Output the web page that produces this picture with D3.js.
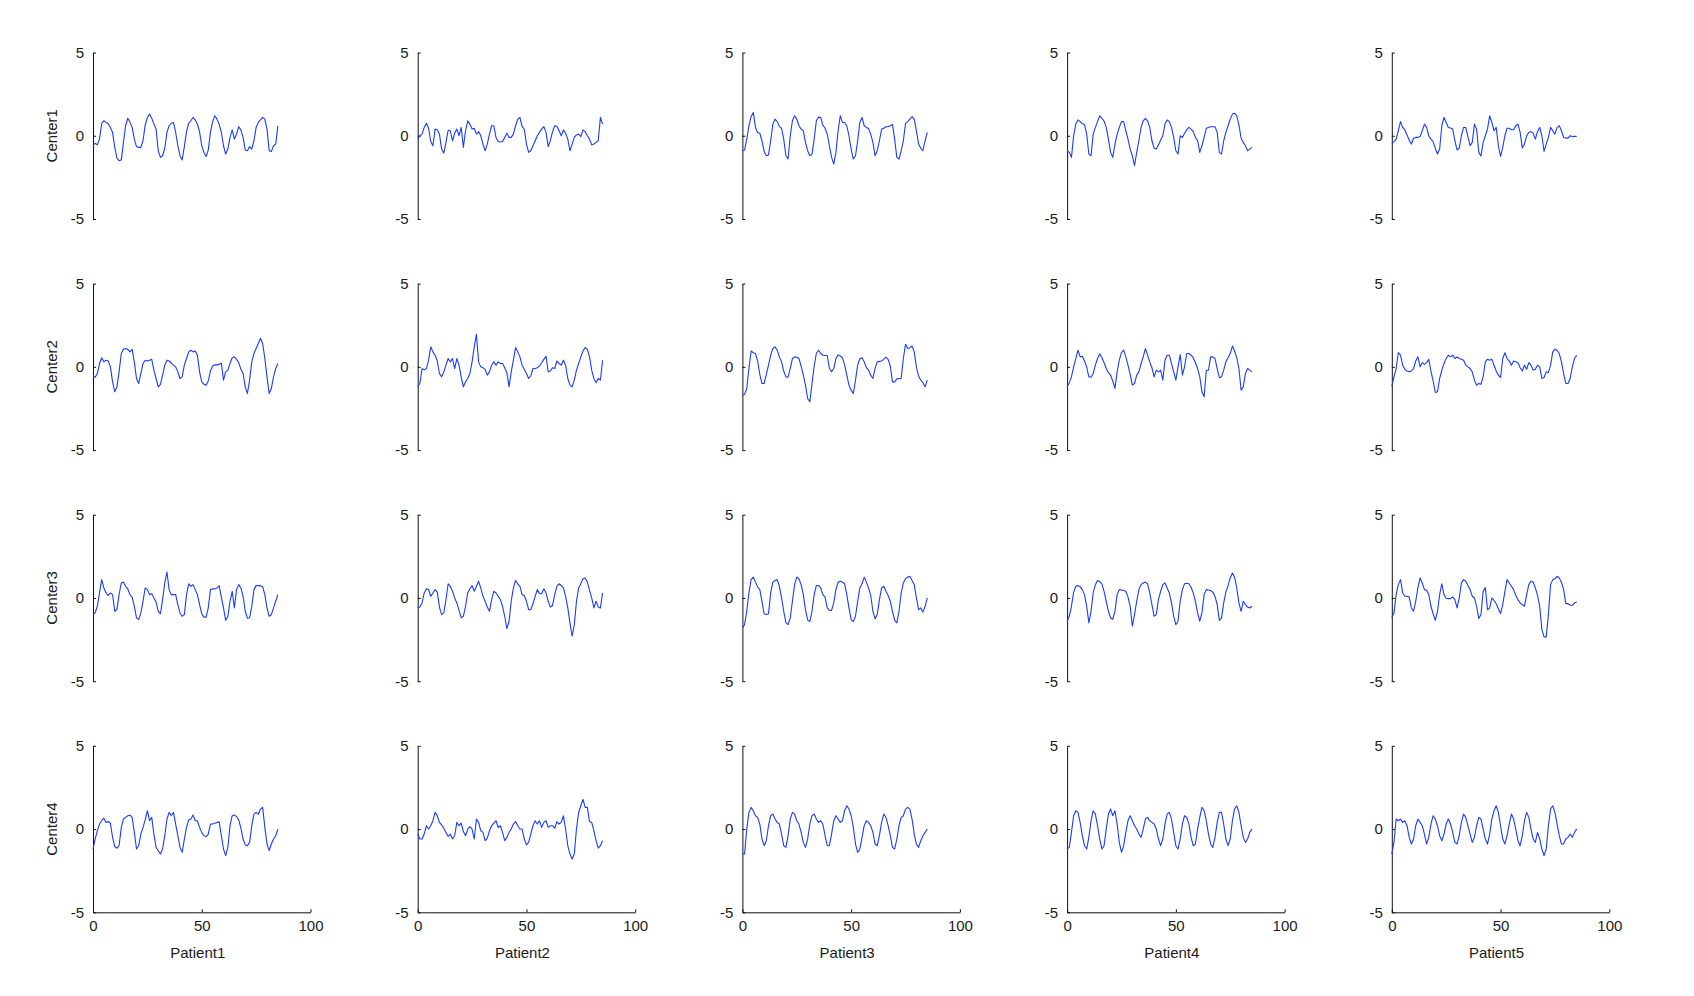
<!DOCTYPE html>
<html><head><meta charset="utf-8">
<script src="https://cdn.jsdelivr.net/npm/d3@7"></script>
<style>body{margin:0;background:#fff;} svg{display:block;}</style>
</head><body>
<svg id="chart" width="1694" height="996"></svg>
<script>
const patients = ["Patient1","Patient2","Patient3","Patient4","Patient5"];
const centers = ["Center1","Center2","Center3","Center4"];
const xTicks = [0, 50, 100];
const yTicks = [-5, 0, 5];

const c1p1 = [-0.6,-0.45,-0.55,-0.2,0.75,0.9,0.8,0.72,0.5,0.2,
 -0.7,-1.35,-1.5,-1.45,-0.4,0.6,1.05,0.82,0.5,-0.2,
 -0.65,-0.7,-0.7,-0.3,0.64,1.1,1.3,1.05,0.7,0.4,
 -0.9,-1.3,-1.2,-0.75,0.2,0.6,0.75,0.8,0.2,-0.6,
 -1.2,-1.45,-0.65,0.25,0.75,0.9,1.1,0.95,0.7,0.23,
 -0.6,-1.0,-1.25,-0.85,0.2,0.85,1.2,1.0,0.7,0.2,
 -0.6,-1.1,-0.8,-0.1,0.35,-0.2,0.1,0.54,0.35,-0.1,
 -0.85,-0.9,-0.65,-0.8,-0.3,0.5,0.8,0.95,1.1,1.0,
 0.4,-0.9,-0.95,-0.6,-0.5,0.6];
const c1p2 = [-0.2,0.0,0.1,0.5,0.75,0.45,-0.35,-0.6,0.4,0.35,
 0.1,-0.8,-1.05,-0.4,0.33,0.3,-0.3,0.15,0.4,0.0,
 0.5,-0.7,0.3,0.9,0.7,0.4,0.45,0.1,0.25,0.0,
 -0.5,-0.9,-0.5,0.1,0.6,0.6,-0.1,-0.35,-0.38,-0.35,
 -0.1,0.15,-0.1,-0.1,0.1,0.6,1.0,1.1,0.55,0.4,
 -0.5,-1.0,-0.9,-0.6,-0.3,0.0,0.2,0.4,0.55,0.2,
 -0.65,-0.3,0.25,0.6,0.55,0.3,0.0,0.35,0.15,-0.2,
 -0.9,-0.5,-0.1,0.05,0.1,-0.05,0.35,0.25,0.0,-0.2,
 -0.55,-0.5,-0.4,-0.3,1.1,0.7];
const c1p3 = [-0.9,-0.85,-0.2,0.6,1.16,1.4,0.5,0.2,0.15,-0.3,
 -0.95,-1.2,-1.15,-0.3,0.7,1.0,0.85,0.55,0.45,-0.2,
 -1.2,-1.4,0.0,0.9,1.2,1.0,0.6,0.4,0.3,-0.4,
 -0.9,-1.2,-1.1,-0.2,0.9,1.12,1.1,0.64,0.45,0.1,
 -0.6,-1.3,-1.7,-1.0,0.3,1.2,0.8,0.8,0.6,0.0,
 -0.8,-1.4,-1.2,-0.3,0.8,1.1,0.6,0.5,0.43,0.1,
 -0.4,-1.2,-0.9,-0.3,0.4,0.45,0.54,0.54,0.6,0.68,
 -0.2,-1.3,-1.4,-0.9,-0.3,0.74,0.85,1.0,1.15,1.0,
 0.3,-0.5,-0.75,-0.9,-0.3,0.2];
const c1p4 = [-0.9,-1.0,-1.3,0.0,0.7,0.95,0.85,0.72,0.67,0.1,
 -1.1,-1.2,0.1,0.5,0.85,1.2,1.05,0.88,0.5,-0.2,
 -1.0,-1.3,-0.5,0.1,0.5,0.85,0.85,0.3,-0.2,-0.8,
 -1.2,-1.8,-1.0,-0.3,0.5,0.9,1.05,0.9,0.5,-0.3,
 -0.75,-0.8,-0.55,-0.25,0.0,0.7,0.95,0.85,0.5,-0.1,
 -0.9,-1.1,0.0,-0.1,0.15,0.35,0.5,0.4,0.25,-0.1,
 -0.3,-1.0,-0.6,-0.1,0.45,0.5,0.54,0.54,0.54,0.2,
 -1.0,-1.1,-0.3,0.2,0.6,1.0,1.3,1.35,1.2,0.65,
 -0.15,-0.4,-0.6,-0.9,-0.8,-0.7];
const c1p5 = [-0.45,-0.35,-0.2,0.3,0.85,0.5,0.35,0.05,-0.25,-0.5,
 -0.15,-0.1,-0.1,-0.05,0.3,0.7,0.5,0.0,-0.2,-0.35,
 -0.75,-1.1,-0.8,0.6,1.1,0.8,0.5,0.46,0.4,-0.3,
 -0.85,-0.75,0.0,0.5,0.5,-0.05,-0.6,-0.4,0.7,0.4,
 -1.0,-1.22,-0.4,0.0,0.4,1.2,0.8,0.3,0.5,-0.6,
 -1.24,-0.7,0.0,0.45,0.45,0.36,0.36,0.6,0.7,0.2,
 -0.74,-0.5,0.0,0.2,0.25,0.16,-0.2,0.25,0.5,0.0,
 -0.94,-0.5,-0.1,0.5,0.3,0.1,0.5,0.6,0.3,-0.1,
 -0.14,-0.14,0.0,-0.05,-0.04,-0.04];

const c2p1 = [-0.55,-0.63,-0.4,0.2,0.55,0.3,0.4,0.35,0.0,-0.9,
 -1.5,-1.2,-0.3,0.8,1.05,1.1,1.05,0.9,1.05,0.3,
 -0.7,-1.0,-0.4,0.2,0.4,0.35,0.4,0.45,-0.2,-0.7,
 -1.2,-1.05,-0.5,0.1,0.4,0.35,0.23,0.1,0.0,-0.3,
 -0.7,-0.6,0.1,0.5,0.9,1.0,0.9,0.95,0.7,-0.3,
 -0.9,-1.05,-1.1,-0.85,-0.25,0.05,0.12,0.12,0.15,0.23,
 -0.8,-0.3,-0.2,0.2,0.55,0.6,0.45,0.25,-0.15,-0.4,
 -1.2,-1.6,-0.8,0.3,0.8,1.1,1.4,1.72,1.4,0.5,
 -0.6,-1.6,-1.3,-0.6,-0.1,0.2];
const c2p2 = [-1.2,-1.0,-0.1,-0.18,-0.1,0.4,1.2,0.9,0.7,0.35,
 -0.4,-0.6,-0.3,0.1,0.5,0.3,0.5,-0.1,0.5,0.1,
 -0.6,-1.2,-0.9,-0.7,-0.4,0.3,1.2,1.95,0.3,0.0,
 -0.05,-0.15,-0.5,-0.3,0.1,0.3,0.1,0.3,0.2,0.2,
 -0.05,-0.35,-1.2,-0.3,0.4,1.16,0.9,0.6,0.1,-0.15,
 -0.4,-0.7,-0.55,-0.1,-0.1,-0.05,0.05,0.25,0.45,0.64,
 -0.3,-0.25,-0.05,-0.1,0.35,0.2,0.1,0.4,0.1,-0.7,
 -1.1,-1.2,-0.8,-0.2,0.2,0.6,0.95,1.16,1.05,0.6,
 -0.2,-0.7,-0.95,-0.7,-0.8,0.4];
const c2p3 = [-1.7,-1.65,-1.3,-0.1,0.95,0.85,0.8,0.35,-0.45,-1.0,
 -1.0,-0.45,0.1,0.7,1.1,1.2,1.0,0.6,0.3,-0.25,
 -0.6,-0.62,-0.1,0.5,0.6,0.58,0.5,0.05,-0.5,-1.1,
 -1.9,-2.1,-1.0,0.05,0.8,1.0,0.8,0.7,0.68,0.68,
 -0.1,-0.29,-0.1,0.5,0.72,0.65,0.55,0.1,-0.5,-1.1,
 -1.4,-1.6,-0.8,0.1,0.5,0.54,0.3,-0.05,-0.2,-0.5,
 -0.7,-0.1,0.3,0.33,0.35,0.45,0.58,0.45,0.05,-0.9,
 -0.9,-0.72,-0.7,-0.7,0.5,1.36,1.1,1.15,1.25,0.9,
 0.0,-0.55,-0.8,-0.95,-1.2,-0.8];
const c2p4 = [-1.2,-0.95,-0.6,0.0,0.5,1.0,0.6,0.64,0.35,0.0,
 -0.6,-0.62,-0.4,0.1,0.5,0.78,0.55,0.25,-0.1,-0.35,
 -0.5,-0.85,-1.3,-0.3,0.4,0.85,1.0,0.6,0.1,-0.45,
 -1.1,-1.0,-0.5,-0.3,0.2,0.6,1.1,0.7,0.3,-0.05,
 -0.6,-0.2,-0.3,-0.2,-0.8,0.4,0.7,0.7,0.2,-0.3,
 -0.8,0.0,0.74,-0.5,0.0,0.8,0.8,0.7,0.55,0.25,
 -0.1,-0.6,-1.5,-1.8,-0.2,-0.2,0.6,0.6,0.5,-0.1,
 -0.65,-0.6,-0.2,0.3,0.54,0.8,1.25,0.95,0.55,-0.1,
 -1.4,-1.2,-0.4,-0.1,-0.2,-0.3];
const c2p5 = [-1.18,-0.6,-0.1,0.86,0.7,0.1,-0.15,-0.25,-0.3,-0.25,
 -0.1,0.35,0.6,0.0,0.25,0.15,0.25,0.45,-0.25,-0.85,
 -1.54,-1.5,-0.7,-0.2,0.2,0.5,0.7,0.6,0.7,0.5,
 0.6,0.5,0.46,0.4,0.1,0.0,-0.1,-0.3,-0.8,-1.1,
 -1.0,-1.05,-0.6,0.3,0.46,0.4,0.45,0.1,-0.25,-0.5,
 -0.64,0.5,0.85,0.5,0.35,0.1,0.35,0.3,0.25,-0.05,
 -0.25,0.1,-0.15,0.25,0.1,-0.2,-0.15,0.1,0.0,-0.7,
 -0.64,-0.3,-0.35,0.1,0.9,1.06,1.0,0.8,0.3,-0.4,
 -1.0,-1.0,-0.7,0.0,0.5,0.7];

const c3p1 = [-1.0,-0.9,-0.5,0.3,1.1,0.6,0.3,0.15,0.3,0.2,
 -0.8,-0.7,0.2,0.9,0.95,0.7,0.54,0.2,0.05,-0.5,
 -1.2,-1.3,-0.9,-0.2,0.6,0.5,0.2,0.25,0.0,-0.25,
 -0.8,-0.95,-0.1,0.9,1.55,0.5,0.2,0.2,0.2,-0.4,
 -0.9,-1.1,-1.0,0.2,0.85,0.7,0.8,0.5,0.2,-0.4,
 -0.95,-1.15,-1.15,-0.6,0.5,0.55,0.54,0.6,0.74,0.05,
 -0.6,-1.35,-1.1,-0.2,0.4,-0.6,0.5,0.8,0.6,0.1,
 -0.8,-1.22,-1.2,-0.5,0.5,0.74,0.74,0.74,0.68,0.2,
 -0.6,-1.1,-1.0,-0.6,-0.2,0.2];
const c3p2 = [-0.6,-0.55,-0.3,0.3,0.55,0.5,0.1,0.3,0.5,0.35,
 -0.55,-1.0,-0.9,-0.1,0.85,0.7,0.4,0.0,-0.3,-0.75,
 -1.2,-1.1,-0.5,0.3,0.55,0.74,0.4,0.7,1.0,0.6,
 0.1,-0.2,-0.55,-0.8,-0.1,0.4,0.3,0.1,-0.1,-0.5,
 -1.1,-1.84,-1.4,-0.2,0.6,1.05,0.85,0.7,0.2,0.15,
 -0.2,-0.7,-0.7,-0.35,0.1,0.5,0.25,0.25,0.55,0.3,
 -0.2,-0.55,-0.45,0.2,0.7,0.85,0.75,0.6,0.1,-0.6,
 -1.5,-2.3,-1.6,-0.2,0.6,0.85,1.15,1.2,0.95,0.45,
 0.0,-0.6,-0.2,-0.55,-0.6,0.3];
const c3p3 = [-1.8,-1.6,-0.8,0.3,1.1,1.25,0.95,0.65,0.5,-0.2,
 -0.95,-1.0,-0.95,0.3,0.95,1.05,1.1,0.7,0.0,-0.8,
 -1.5,-1.6,-1.2,-0.2,0.8,1.25,1.15,0.8,0.2,-0.7,
 -1.32,-1.42,-0.8,0.2,0.75,0.75,0.6,0.2,0.05,-0.6,
 -0.75,-0.75,-0.3,0.5,0.95,1.0,0.95,0.85,0.2,-0.6,
 -1.3,-1.42,-1.1,-0.2,0.6,0.85,1.25,0.95,0.6,0.15,
 -0.8,-1.25,-1.0,-0.1,0.6,0.7,0.4,0.15,-0.2,-0.8,
 -1.35,-1.5,-0.8,0.3,0.9,1.15,1.25,1.3,1.05,0.8,
 0.0,-0.7,-0.6,-0.85,-0.5,0.0];
const c3p4 = [-1.4,-1.1,-0.5,0.35,0.7,0.74,0.68,0.5,0.2,-0.5,
 -1.5,-0.8,0.3,0.8,1.05,0.97,0.85,0.4,-0.2,-0.8,
 -1.2,-1.28,-0.8,0.2,0.5,0.48,0.45,0.4,0.05,-0.5,
 -1.7,-1.0,-0.2,0.5,0.8,0.9,0.95,0.85,0.3,-0.4,
 -1.1,-1.0,-0.1,0.4,0.8,0.9,0.6,0.3,-0.3,-1.1,
 -1.6,-1.4,-0.2,0.5,0.85,0.88,0.85,0.64,0.3,-0.2,
 -0.9,-1.4,-0.9,0.2,0.5,0.48,0.45,0.35,0.1,-0.4,
 -1.35,-1.2,-0.3,0.35,0.74,1.2,1.5,1.25,0.6,-0.3,
 -0.8,-0.2,-0.4,-0.55,-0.6,-0.5];
const c3p5 = [-1.18,-0.9,0.2,0.8,1.1,0.3,0.1,0.1,0.05,-0.6,
 -0.8,-0.2,0.6,1.2,0.9,0.5,0.46,0.2,-0.5,-0.95,
 -1.34,-0.8,0.2,0.85,0.2,-0.02,-0.04,-0.04,0.06,-0.1,
 -0.6,0.0,0.9,1.1,1.0,0.75,0.5,0.1,0.0,-0.5,
 -1.24,-1.0,0.4,0.62,-0.7,-0.6,0.0,-0.15,-0.35,-0.65,
 -0.94,-0.4,0.4,1.1,0.9,0.7,0.5,0.15,-0.1,-0.3,
 -0.4,-0.5,0.2,0.8,1.0,0.95,0.6,0.15,-0.5,-1.9,
 -2.34,-2.34,-1.0,0.8,1.1,1.15,1.3,1.2,0.95,0.5,
 -0.34,-0.34,-0.44,-0.44,-0.3,-0.24];

const c4p1 = [-1.2,-0.6,-0.1,0.3,0.5,0.65,0.4,0.45,0.35,-0.5,
 -1.05,-1.15,-1.0,0.1,0.6,0.7,0.8,0.83,0.7,-0.2,
 -1.2,-1.0,-0.3,0.1,0.55,1.1,0.5,0.7,-0.3,-1.1,
 -1.3,-1.5,-1.2,-0.4,0.6,1.0,0.8,1.0,0.3,-0.4,
 -1.1,-1.4,-0.6,0.1,0.55,0.6,0.85,0.5,0.5,0.1,
 -0.2,-0.4,-0.45,-0.3,0.3,0.3,0.35,0.4,0.43,-0.4,
 -1.2,-1.6,-1.1,0.2,0.8,0.85,0.75,0.55,0.05,-0.6,
 -0.95,-1.0,-0.8,0.2,0.9,1.0,0.9,1.2,1.3,0.1,
 -0.9,-1.3,-0.9,-0.6,-0.4,0.0];
const c4p2 = [-0.3,-0.6,-0.6,-0.3,0.2,0.0,0.2,0.5,1.0,0.8,
 0.4,0.25,0.05,-0.2,-0.45,-0.3,-0.6,-0.4,0.4,0.2,
 0.35,-0.15,-0.4,0.0,0.15,0.0,-0.6,0.6,0.4,-0.1,
 -0.2,-0.7,-0.55,-0.1,0.2,0.35,0.5,0.1,0.2,-0.2,
 -0.7,-0.5,-0.2,0.0,0.3,0.45,0.2,0.0,0.0,-0.6,
 -0.95,-0.8,-0.3,0.2,0.5,0.3,0.5,0.1,0.4,0.5,
 0.1,0.2,0.2,0.05,0.45,0.3,0.4,0.8,0.0,-1.0,
 -1.5,-1.8,-1.5,0.0,1.0,1.4,1.78,1.3,1.3,0.45,
 0.4,-0.1,-0.7,-1.15,-1.0,-0.7];
const c4p3 = [-1.5,-1.5,0.0,1.0,1.3,1.1,0.8,0.7,0.3,-0.6,
 -1.0,-0.7,0.2,0.8,0.9,0.6,0.4,0.3,-0.3,-1.0,
 -1.1,-0.4,0.6,1.0,0.9,0.5,0.3,-0.2,-0.8,-1.1,
 -0.6,0.3,0.8,0.9,0.6,0.4,0.5,0.3,-0.4,-1.0,
 -1.0,-0.3,0.5,0.8,0.6,0.4,0.5,1.1,1.4,1.2,
 0.8,0.1,-0.9,-1.4,-1.2,-0.5,0.2,0.5,0.4,0.2,
 -0.2,-0.9,-1.0,-0.4,0.4,0.9,0.7,0.2,-0.4,-1.1,
 -1.2,-0.6,0.2,0.7,0.8,1.2,1.3,1.2,0.6,-0.3,
 -0.9,-1.1,-0.7,-0.4,-0.2,0.0];
const c4p4 = [-1.2,-1.1,-0.2,0.8,1.1,1.0,0.4,-0.4,-1.0,-1.2,
 -0.5,0.5,1.1,0.9,0.2,-0.6,-1.2,-1.0,0.0,0.9,
 1.2,0.8,1.1,0.3,-0.8,-1.4,-1.0,-0.2,0.5,0.8,
 0.5,0.2,0.0,-0.3,-0.5,0.0,0.6,0.7,0.5,0.4,
 0.3,0.0,-0.6,-1.0,-0.6,0.3,0.9,1.0,0.6,-0.2,
 -1.0,-1.2,-0.6,0.3,0.8,0.7,0.3,-0.5,-1.0,-0.9,
 0.0,0.7,1.3,1.1,0.5,-0.3,-0.9,-1.1,-0.5,0.4,
 1.0,1.0,0.3,-0.6,-1.0,-0.6,0.5,1.2,1.4,1.0,
 0.2,-0.5,-0.8,-0.6,-0.2,0.0];
const c4p5 = [-1.5,-0.8,0.6,0.5,0.6,0.4,0.5,0.2,-0.5,-0.9,
 -0.6,0.2,0.6,0.4,0.2,-0.3,-0.9,-0.5,0.3,0.8,
 0.6,0.2,-0.4,-0.7,-0.3,0.3,0.6,0.3,-0.2,-0.8,
 -0.9,-0.4,0.4,0.9,0.7,0.2,-0.3,-0.8,-0.5,0.2,
 0.7,0.6,0.0,-0.6,-0.9,-0.3,0.6,1.1,1.4,1.0,
 0.2,-0.6,-0.9,-0.4,0.3,0.9,0.6,0.0,-0.7,-1.0,
 -0.4,0.5,1.0,0.7,0.0,-0.6,-0.8,-0.2,-0.6,-1.2,
 -1.6,-1.2,0.2,1.2,1.4,1.0,0.3,-0.4,-0.9,-0.9,
 -0.6,-0.5,-0.3,-0.5,-0.2,0.0];

const seriesGrid = [
  [c1p1, c1p2, c1p3, c1p4, c1p5],
  [c2p1, c2p2, c2p3, c2p4, c2p5],
  [c3p1, c3p2, c3p3, c3p4, c3p5],
  [c4p1, c4p2, c4p3, c4p4, c4p5]
];

// layout
const left0 = 93, colStep = 324.7, plotW = 217.5;
const top0 = 52.5, rowStep = 231.1, plotH = 166.5;
const FONT = "'Liberation Sans', Arial, Helvetica, sans-serif";
const FS = 15;
const TXT = "#1a1a1a";
const fmt = d => String(d);

const svg = d3.select("#chart");
const x = d3.scaleLinear().domain([0, 100]).range([0, plotW]);
const y = d3.scaleLinear().domain([-5, 5]).range([plotH, 0]);
const line = d3.line().x((d, i) => x(i)).y(d => y(d));

centers.forEach((cName, r) => {
  patients.forEach((pName, c) => {
    const g = svg.append("g")
      .attr("transform", `translate(${left0 + c * colStep},${top0 + r * rowStep})`);

    const ya = g.append("g")
      .call(d3.axisLeft(y).tickValues(yTicks).tickFormat(fmt)
        .tickSizeInner(-3).tickSizeOuter(0).tickPadding(9));
    ya.select(".domain").attr("stroke", "#111");
    ya.selectAll(".tick line").attr("stroke", "#111");
    ya.selectAll(".tick text").attr("font-family", FONT).attr("font-size", FS).attr("fill", TXT);

    if (r === centers.length - 1) {
      const xa = g.append("g")
        .attr("transform", `translate(0,${plotH})`)
        .call(d3.axisBottom(x).tickValues(xTicks).tickFormat(fmt)
          .tickSizeInner(-3).tickSizeOuter(0).tickPadding(8));
      xa.select(".domain").attr("stroke", "#111");
      xa.selectAll(".tick line").attr("stroke", "#111");
      xa.selectAll(".tick text").attr("font-family", FONT).attr("font-size", FS).attr("fill", TXT);
      g.append("text")
        .attr("x", plotW / 2 - 4)
        .attr("y", plotH + 46)
        .attr("text-anchor", "middle")
        .attr("font-family", FONT).attr("font-size", FS).attr("fill", TXT)
        .text(pName);
    }
    if (c === 0) {
      g.append("text")
        .attr("transform", `translate(-36,${plotH / 2}) rotate(-90)`)
        .attr("text-anchor", "middle")
        .attr("font-family", FONT).attr("font-size", FS).attr("fill", TXT)
        .text(cName);
    }

    g.append("path")
      .datum(seriesGrid[r][c])
      .attr("fill", "none")
      .attr("stroke", "#1a3cff")
      .attr("stroke-width", 1.1)
      .attr("stroke-linejoin", "round")
      .attr("d", line);
  });
});
</script>
</body></html>
